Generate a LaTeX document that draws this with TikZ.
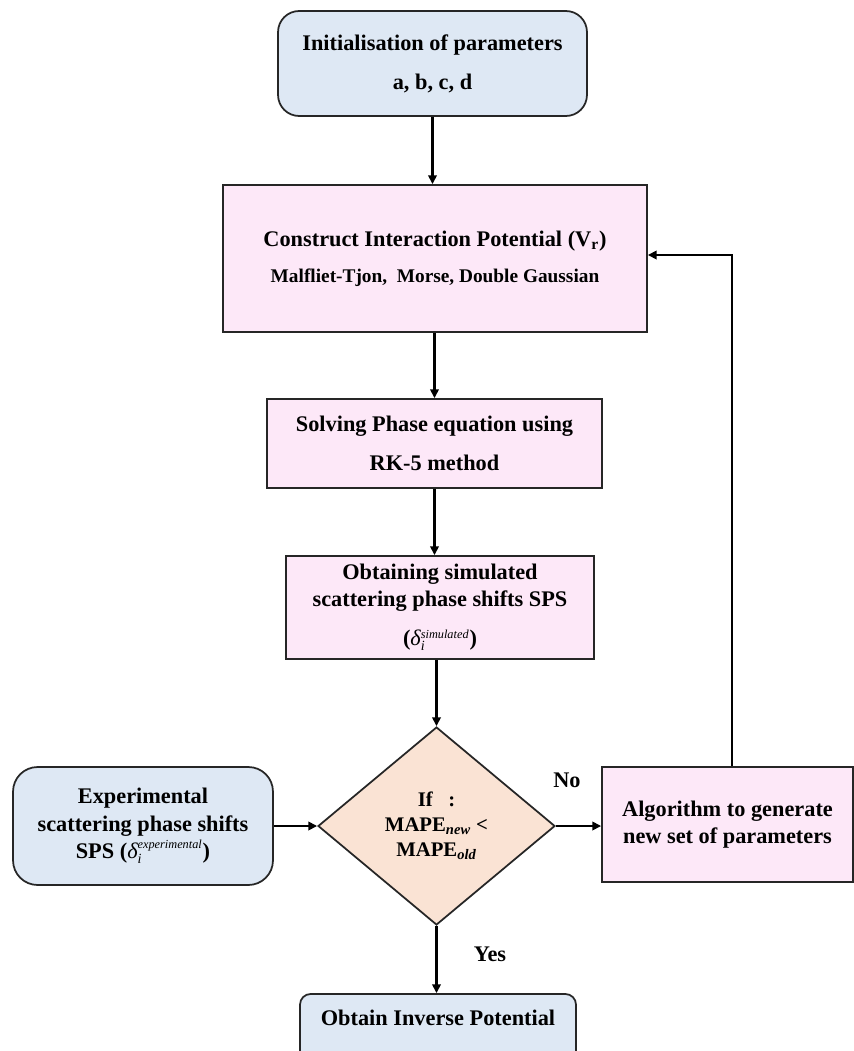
\documentclass[tikz,border=0pt]{standalone}
\usepackage{fontspec}
\setmainfont{Liberation Serif}
\usepackage{amsmath}
\usetikzlibrary{shapes.geometric,arrows.meta}
\definecolor{bluef}{HTML}{DEE8F4}
\definecolor{pinkf}{HTML}{FDE8F8}
\definecolor{peachf}{HTML}{FAE3D4}
\newcommand{\dsym}[1]{{\mdseries\itshape δ}\ensuremath{{}^{\text{\fontsize{7}{8}\selectfont\mdseries\itshape #1}}_{\text{\fontsize{8}{9}\selectfont\mdseries\itshape i}}}}
\begin{document}
\begin{tikzpicture}[x=0.02cm,y=-0.02cm,
  box/.style={draw=black!85, line width=1pt, inner sep=0pt, align=center,
    font=\fontsize{12.7}{15.5}\selectfont\bfseries},
  pinkbox/.style={box, fill=pinkf},
  bluebox/.style={box, fill=bluef},
  arr/.style={-{Triangle[length=5pt,width=4.8pt]}, line width=1.35pt},
  lbl/.style={font=\fontsize{12.7}{15.5}\selectfont\bfseries, inner sep=0pt}]
\clip (0,0) rectangle (854,1051);
\node[bluebox, rounded corners=12pt, minimum width=6.18cm, minimum height=2.1cm] (b1) at (432.5,63.5)
  {Initialisation of parameters\\[6.6pt] a, b, c, d};
\node[pinkbox, minimum width=8.48cm, minimum height=2.94cm] (b2) at (435,258.5)
  {Construct Interaction Potential (V\textsubscript{r})\\[4.9pt]
   {\fontsize{11}{13}\selectfont Malfliet-Tjon,~ Morse, Double Gaussian}};
\node[pinkbox, minimum width=6.7cm, minimum height=1.78cm] (b3) at (434.5,443.5)
  {Solving Phase equation using\\[6.6pt] RK-5 method};
\node[pinkbox, minimum width=6.16cm, minimum height=2.06cm] (b4) at (440,607.5)
  {Obtaining simulated\\ scattering phase shifts SPS\\[6.6pt] (\dsym{simulated})};
\node[box, diamond, fill=peachf, minimum width=4.74cm, minimum height=3.96cm,
  font=\fontsize{11.8}{14.2}\selectfont\bfseries] (dia) at (436.5,826)
  {If~~~:\\ MAPE\textsubscript{\itshape new} <\\ MAPE\textsubscript{\itshape old}};
\node[bluebox, rounded corners=14pt, minimum width=5.2cm, minimum height=2.36cm] (exp) at (143,826)
  {Experimental\\ scattering phase shifts\\ SPS (\dsym{experimental})};
\node[pinkbox, minimum width=5.02cm, minimum height=2.3cm] (alg) at (727.5,824.5)
  {Algorithm to generate\\ new set of parameters};
\node[bluebox, rounded corners=6pt, minimum width=5.52cm, minimum height=1.4cm] (fin) at (438,1029) {};
\node[lbl] (fint) at (438,1018) {Obtain Inverse Potential};
\node[lbl] (no) at (567,780) {No};
\node[lbl] (yes) at (490,954) {Yes};
\coordinate (turn) at (732,255);
\draw[arr] (b1.south) -- (b1.south |- b2.north);
\draw[arr] (b3.north |- b2.south) -- (b3.north);
\draw[arr] (b3.south) -- (b3.south |- b4.north);
\draw[arr] (dia.north |- b4.south) -- (dia.north);
\draw[arr] (exp.east |- dia.west) -- (dia.west);
\draw[arr] (dia.east) -- (dia.east -| alg.west);
\draw[arr] (dia.south) -- (dia.south |- fin.north);
\draw[arr] (turn |- alg.north) -- (turn) -- (turn -| b2.east);
\end{tikzpicture}
\end{document}
